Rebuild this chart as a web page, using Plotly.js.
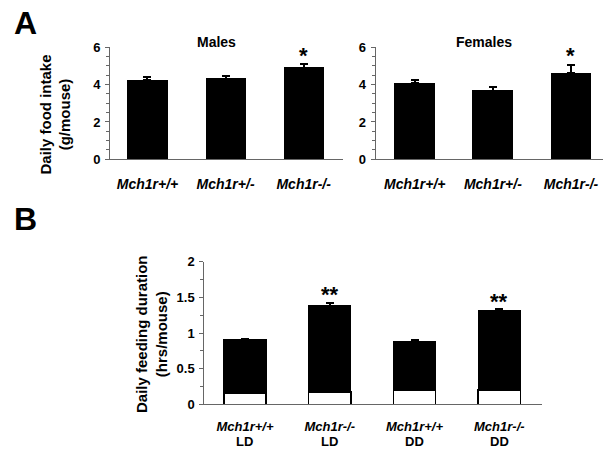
<!DOCTYPE html>
<html>
<head>
<meta charset="utf-8">
<script src="https://cdn.plot.ly/plotly-3.0.1.min.js"></script>
<style>html,body{margin:0;padding:0;background:#fff;}#chart{width:603px;height:450px;}</style>
</head>
<body>
<div id="chart"></div>
<script>
// ---- Data ----
const genotypes = ['Mch1r+/+', 'Mch1r+/-', 'Mch1r-/-'];
const malesIntake = [4.22, 4.31, 4.90];
const malesErr = [0.17, 0.14, 0.18];
const femalesIntake = [4.07, 3.68, 4.61];
const femalesErr = [0.18, 0.18, 0.44];
const malesStars = ['', '', '*'];
const femalesStars = ['', '', '*'];
const starHeightA = [5.76, 5.76, 5.76];

const feedGenotypes = ['Mch1r+/+', 'Mch1r-/-', 'Mch1r+/+', 'Mch1r-/-'];
const feedConditions = ['LD', 'LD', 'DD', 'DD'];
const feedLower = [0.154, 0.172, 0.20, 0.20];      // white segment
const feedLowerErr = [0.01, 0.01, 0.01, 0.01];
const feedUpper = [0.758, 1.207, 0.678, 1.109];    // black segment
const feedUpperErr = [0.01, 0.037, 0.022, 0.027];
const feedStars = ['', '**', '', '**'];
const feedStarHeight = [1.60, 1.60, 1.50, 1.50];

// ---- Build ----
const FONT = 'Liberation Sans, Arial, Helvetica, sans-serif';
const feedCats = feedGenotypes.map((g, i) => g + ' ' + feedConditions[i]);
const feedTickText = feedGenotypes.map(g => g);

const errStyle = (arr) => ({type: 'data', array: arr, arrayminus: arr.map(() => 0), symmetric: false,
  color: '#000', thickness: 2, width: 4, visible: true});

const traces = [
  {type: 'bar', x: genotypes, y: malesIntake, xaxis: 'x', yaxis: 'y', width: 0.5,
   marker: {color: '#000', line: {color: '#000', width: 1}}, error_y: errStyle(malesErr), showlegend: false},
  {type: 'bar', x: genotypes, y: femalesIntake, xaxis: 'x2', yaxis: 'y2', width: 0.51,
   marker: {color: '#000', line: {color: '#000', width: 1}}, error_y: errStyle(femalesErr), showlegend: false},
  {type: 'bar', x: feedCats, y: feedLower, xaxis: 'x3', yaxis: 'y3', width: 0.5,
   marker: {color: '#fff', line: {color: '#000', width: 1.5}}, error_y: errStyle(feedLowerErr), showlegend: false},
  {type: 'bar', x: feedCats, y: feedUpper, xaxis: 'x3', yaxis: 'y3', width: 0.5,
   marker: {color: '#000', line: {color: '#000', width: 1}}, error_y: errStyle(feedUpperErr), showlegend: false}
];

const tickFontBold = {family: FONT, size: 13, color: '#000', weight: 'bold'};
const xTickFont = {family: FONT, size: 14, color: '#000', weight: 'bold', style: 'italic'};
const axLine = '#666';

const yA = (anchor) => ({
  domain: [0.646, 0.895], range: [0, 6], anchor: anchor, tickvals: [0, 2, 4, 6],
  showline: true, linecolor: axLine, linewidth: 1, showgrid: false, zeroline: false,
  ticks: 'outside', ticklen: 4, tickcolor: axLine, tickfont: tickFontBold, ticklabelstandoff: 2,
  minor: {dtick: 0.5, ticks: 'outside', ticklen: 3, tickcolor: axLine, showgrid: false}
});
const xA = (anchor, dom, rng) => ({
  domain: dom, range: rng, anchor: anchor, type: 'category',
  showline: true, linecolor: axLine, linewidth: 1, showgrid: false, zeroline: false,
  ticks: '', tickfont: xTickFont, ticklabelstandoff: 12
});

const starFont = {family: FONT, size: 22, color: '#000', weight: 'bold'};
const annotations = [];
genotypes.forEach((g, i) => {
  if (malesStars[i]) annotations.push({x: g, y: starHeightA[i], xref: 'x', yref: 'y', text: malesStars[i],
    showarrow: false, font: starFont, yanchor: 'middle', yshift: -4});
  if (femalesStars[i]) annotations.push({x: g, y: starHeightA[i], xref: 'x2', yref: 'y2', text: femalesStars[i],
    showarrow: false, font: starFont, yanchor: 'middle', yshift: -4});
});
feedCats.forEach((c, i) => {
  if (feedStars[i]) annotations.push({x: c, y: feedStarHeight[i], xref: 'x3', yref: 'y3', text: feedStars[i],
    showarrow: false, font: starFont, yanchor: 'middle', yshift: -4});
  annotations.push({x: c, y: 0, xref: 'x3', yref: 'paper', text: feedConditions[i],
    showarrow: false, font: {family: FONT, size: 13, color: '#000', weight: 'bold'}, yanchor: 'bottom', borderpad: 0});
});
const bigFont = {family: FONT, size: 32, color: '#000', weight: 'bold'};
const titleFont = {family: FONT, size: 14, color: '#000', weight: 'bold'};
const ytFont = {family: FONT, size: 15, color: '#000', weight: 'bold'};
annotations.push(
  {text: 'A', x: 25 / 603, y: 1 - 23.5 / 450, xref: 'paper', yref: 'paper', showarrow: false,
   font: bigFont, xanchor: 'center', yanchor: 'middle'},
  {text: 'B', x: 25 / 603, y: 1 - 219 / 450, xref: 'paper', yref: 'paper', showarrow: false,
   font: bigFont, xanchor: 'center', yanchor: 'middle'},
  {text: 'Males', x: 216.5 / 603, y: 1 - 42 / 450, xref: 'paper', yref: 'paper', showarrow: false,
   font: titleFont, xanchor: 'center', yanchor: 'middle'},
  {text: 'Females', x: 484 / 603, y: 1 - 42 / 450, xref: 'paper', yref: 'paper', showarrow: false,
   font: titleFont, xanchor: 'center', yanchor: 'middle'},
  {text: 'Daily food intake<br>(g/mouse)', x: 55 / 603, y: 1 - 114.5 / 450, xref: 'paper', yref: 'paper',
   showarrow: false, textangle: -90, font: ytFont, xanchor: 'center', yanchor: 'middle'},
  {text: 'Daily feeding duration<br>(hrs/mouse)', x: 151 / 603, y: 1 - 334 / 450, xref: 'paper', yref: 'paper',
   showarrow: false, textangle: -90, font: ytFont, xanchor: 'center', yanchor: 'middle'}
);

const layout = {
  width: 603, height: 450, margin: {l: 0, r: 0, t: 0, b: 0},
  paper_bgcolor: '#fff', plot_bgcolor: '#fff', barmode: 'stack', showlegend: false,
  font: {family: FONT, color: '#000'},
  xaxis: xA('y', [110 / 603, 342.7 / 603], [-0.48, 2.5]),
  yaxis: yA('x'),
  xaxis2: xA('y2', [375.7 / 603, 1], [-0.5, 2.41]),
  yaxis2: yA('x2'),
  xaxis3: Object.assign(xA('y3', [204.3 / 603, 541.7 / 603], [-0.48, 3.5]),
    {tickvals: feedCats, ticktext: feedTickText, ticklabelstandoff: 10,
     tickfont: {family: FONT, size: 13, color: '#000', weight: 'bold', style: 'italic'}}),
  yaxis3: {
    domain: [0.1016, 0.4184], range: [0, 2], anchor: 'x3', tickvals: [0, 0.5, 1, 1.5, 2],
    ticktext: ['0', '0.5', '1', '1.5', '2'],
    showline: true, linecolor: axLine, linewidth: 1, showgrid: false, zeroline: false,
    ticks: 'outside', ticklen: 4, tickcolor: axLine, tickfont: tickFontBold, ticklabelstandoff: 2,
    minor: {dtick: 0.25, ticks: 'outside', ticklen: 3, tickcolor: axLine, showgrid: false}
  },
  annotations: annotations
};

Plotly.newPlot('chart', traces, layout, {displayModeBar: false, staticPlot: true});
</script>
</body>
</html>
